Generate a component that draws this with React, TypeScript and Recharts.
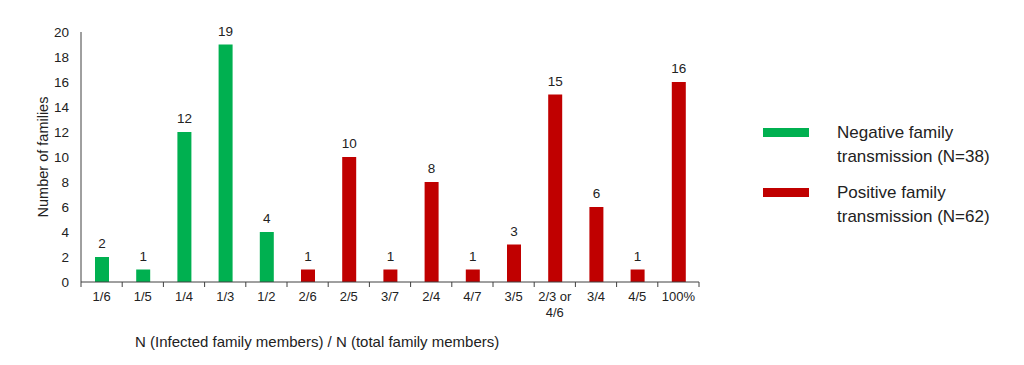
import React from 'react';
import { BarChart, Bar, XAxis, YAxis, LabelList } from 'recharts';

const categories = ['1/6', '1/5', '1/4', '1/3', '1/2', '2/6', '2/5', '3/7', '2/4', '4/7', '3/5', '2/3 or 4/6', '3/4', '4/5', '100%'];
const negative = [2, 1, 12, 19, 4, null, null, null, null, null, null, null, null, null, null];
const positive = [null, null, null, null, null, 1, 10, 1, 8, 1, 3, 15, 6, 1, 16];
const yTicks = [0, 2, 4, 6, 8, 10, 12, 14, 16, 18, 20];

const data = categories.map((name, i) => ({ name, negative: negative[i], positive: positive[i] }));

const GREEN = '#00b050';
const RED = '#c00000';
const FONT = '"Liberation Sans", Arial, sans-serif';
const HALF_BAND = 20.6;

const CategoryTick = (props: any) => {
  const { x, y, payload, index } = props;
  const label: string = payload.value;
  const lines = label === '2/3 or 4/6' ? ['2/3 or', '4/6'] : [label];
  const last = index === categories.length - 1;
  return (
    <g>
      <line x1={x - HALF_BAND} x2={x - HALF_BAND} y1={y - 8} y2={y - 3} stroke="#404040" />
      {last && <line x1={x + HALF_BAND} x2={x + HALF_BAND} y1={y - 8} y2={y - 3} stroke="#404040" />}
      {lines.map((l, i) => (
        <text key={i} x={x} y={y + 11 + i * 16} textAnchor="middle" fontSize={13} fill="#222" fontFamily={FONT}>
          {l}
        </text>
      ))}
    </g>
  );
};

const App = () => {
  return (
    <div style={{ position: 'absolute', left: 0, top: 0, width: 1024, height: 365, background: '#fff', fontFamily: FONT }}>
      <BarChart width={1024} height={365} data={data} margin={{ top: 32, right: 325, bottom: 53, left: 41 }}>
        <XAxis
          dataKey="name"
          interval={0}
          tickLine={false}
          axisLine={{ stroke: '#404040' }}
          tick={<CategoryTick />}
          height={30}
        />
        <YAxis
          domain={[0, 20]}
          ticks={yTicks}
          width={40}
          tickLine={false}
          axisLine={{ stroke: '#404040' }}
          tick={{ fontSize: 13.5, fill: '#222', fontFamily: FONT }}
          tickMargin={6}
        />
        <Bar dataKey="negative" stackId="a" fill={GREEN} barSize={14} isAnimationActive={false}>
          <LabelList dataKey="negative" position="top" offset={9} fontSize={13.5} fill="#222" fontFamily={FONT} />
        </Bar>
        <Bar dataKey="positive" stackId="a" fill={RED} barSize={14} isAnimationActive={false}>
          <LabelList dataKey="positive" position="top" offset={9} fontSize={13.5} fill="#222" fontFamily={FONT} />
        </Bar>
      </BarChart>
      <div
        style={{
          position: 'absolute',
          left: 43,
          top: 157,
          transform: 'translate(-50%, -50%) rotate(-90deg)',
          fontSize: 14.5,
          color: '#222',
          whiteSpace: 'nowrap',
        }}
      >
        Number of families
      </div>
      <div style={{ position: 'absolute', left: 135, top: 333, fontSize: 15, color: '#222', whiteSpace: 'nowrap' }}>
        N (Infected family members) / N (total family members)
      </div>
      <div style={{ position: 'absolute', left: 763, top: 121, fontSize: 17, color: '#222', lineHeight: '24px' }}>
        <div style={{ display: 'flex', alignItems: 'flex-start', marginBottom: 12 }}>
          <div style={{ width: 46, height: 9, background: GREEN, marginTop: 7, marginRight: 28 }} />
          <div>
            Negative family
            <br />
            transmission (N=38)
          </div>
        </div>
        <div style={{ display: 'flex', alignItems: 'flex-start' }}>
          <div style={{ width: 46, height: 9, background: RED, marginTop: 7, marginRight: 28 }} />
          <div>
            Positive family
            <br />
            transmission (N=62)
          </div>
        </div>
      </div>
    </div>
  );
};

export default App;
